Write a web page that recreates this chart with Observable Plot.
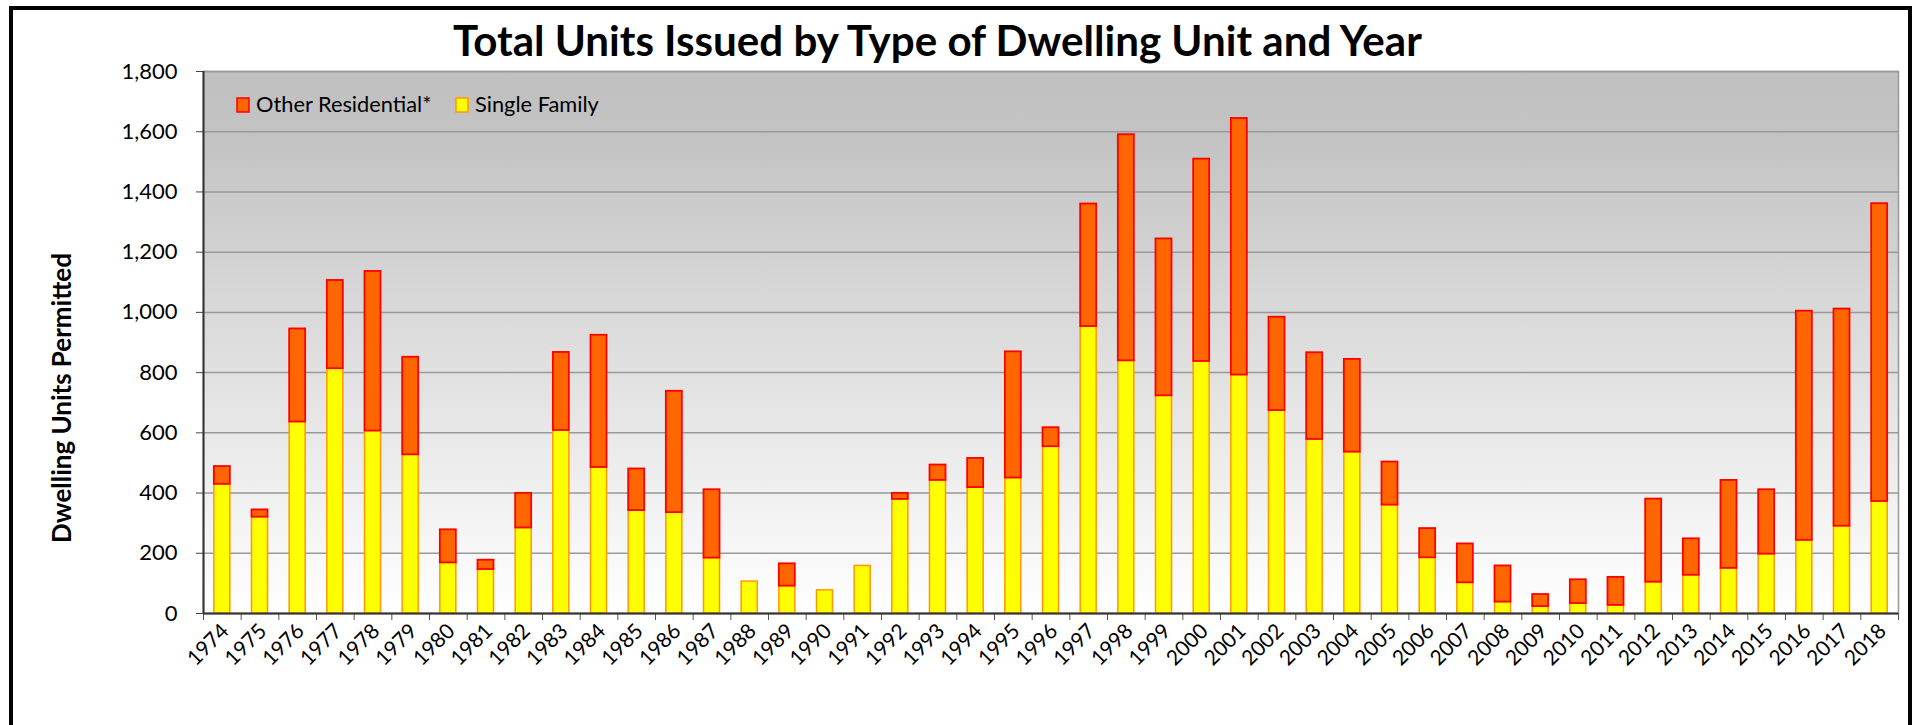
<!DOCTYPE html>
<html>
<head>
<meta charset="utf-8">
<script src="https://cdn.jsdelivr.net/npm/d3@7"></script>
<script src="https://cdn.jsdelivr.net/npm/@observablehq/plot@0.6"></script>
<style>
  html, body { margin: 0; padding: 0; background: #fff; }
  #wrap { position: relative; width: 1916px; height: 725px; overflow: hidden; background: #fff; font-family: Lato, sans-serif; }
  #wrap > svg { position: absolute; left: 0; top: 0; }
  #frame { position: absolute; left: 9px; top: 6px; width: 1895px; height: 800px; border: 4px solid #000; pointer-events: none; }
</style>
</head>
<body>
<div id="wrap"><div id="frame"></div></div>
<script>
// ---- data ----
const years = [1974,1975,1976,1977,1978,1979,1980,1981,1982,1983,1984,1985,1986,1987,1988,1989,1990,1991,1992,1993,1994,1995,1996,1997,1998,1999,2000,2001,2002,2003,2004,2005,2006,2007,2008,2009,2010,2011,2012,2013,2014,2015,2016,2017,2018];
const singleFamily = [429,320,636,813,606,527,168,146,284,608,485,342,335,184,106,91,77,158,379,442,418,450,554,953,839,723,837,792,674,578,536,360,185,102,38,23,33,27,104,127,150,197,243,290,372];
const otherResidential = [59,24,309,293,530,324,110,31,115,259,439,138,403,227,0,74,0,0,20,51,97,419,63,407,751,521,672,852,310,288,308,143,97,129,120,40,79,93,276,121,292,214,761,721,989];
const yTicks = [0,200,400,600,800,1000,1200,1400,1600,1800];
const seriesNames = ["Other Residential*", "Single Family"];
const seriesFill = ["#ff6600", "#ffff00"];
const seriesStroke = ["#ff0000", "#ff9900"];
const titleText = "Total Units Issued by Type of Dwelling Unit and Year";
const yLabelText = "Dwelling Units Permitted";

const rows = years.map((y, i) => ({year: y, single: singleFamily[i], other: otherResidential[i]}));

// ---- layout ----
const W = 1916, H = 725;
const mL = 203, mR = 18, mT = 71, mB = 112;
const bw = (W - mL - mR) / years.length;
const barInset = (bw - 16) / 2;

function gradientDefs() {
  const defs = d3.create("svg:defs");
  const g = defs.append("linearGradient").attr("id", "plotBg")
    .attr("x1", 0).attr("y1", 0).attr("x2", 0).attr("y2", 1);
  g.append("stop").attr("offset", "0%").attr("stop-color", "#c0c0c0");
  g.append("stop").attr("offset", "12%").attr("stop-color", "#c3c3c3");
  g.append("stop").attr("offset", "100%").attr("stop-color", "#ffffff");
  return defs.node();
}

const chart = Plot.plot({
  width: W, height: H,
  marginLeft: mL, marginRight: mR, marginTop: mT, marginBottom: mB,
  style: {background: "transparent", fontFamily: "Lato, sans-serif", fontSize: "20px", color: "#000"},
  x: {type: "band", domain: years, padding: 0, round: false, label: null},
  y: {domain: [0, 1800], label: null},
  marks: [
    gradientDefs,
    Plot.frame({fill: "url(#plotBg)", stroke: "#999", strokeWidth: 1.5}),
    Plot.gridY(yTicks, {stroke: "#999", strokeOpacity: 1, strokeWidth: 1.5}),
    Plot.barY(rows, {x: "year", y1: 0, y2: "single", fill: seriesFill[1], stroke: seriesStroke[1], strokeWidth: 1.5, insetLeft: barInset, insetRight: barInset}),
    Plot.barY(rows.filter(d => d.other > 0), {x: "year", y1: "single", y2: d => d.single + d.other, fill: seriesFill[0], stroke: seriesStroke[0], strokeWidth: 1.8, insetLeft: barInset, insetRight: barInset}),
    Plot.axisY({ticks: yTicks, tickSize: 7, tickPadding: 19, tickFormat: d3.format(","), label: null, stroke: "#444", fontSize: 22}),
    Plot.axisX({tickSize: 0, tickRotate: -45, tickPadding: 14, tickFormat: d => String(d), label: null, fill: "#000", stroke: "none", fontSize: 21, dx: 3}),
    Plot.axisX({tickSize: 7, fill: "none", stroke: "#555", dx: -bw / 2, label: null}),
    Plot.axisX({ticks: [years[years.length - 1]], tickSize: 7, fill: "none", stroke: "#555", dx: bw / 2, label: null}),
    Plot.ruleX([years[0]], {dx: -bw / 2, stroke: "#333", strokeWidth: 2}),
    Plot.ruleY([0], {stroke: "#333", strokeWidth: 2})
  ]
});

const wrap = document.getElementById("wrap");
wrap.insertBefore(chart, document.getElementById("frame"));

// ---- title, y label, legend overlay ----
function fitFont(text, weight, target) {
  const ctx = document.createElement("canvas").getContext("2d");
  ctx.font = `${weight} 100px Lato`;
  return 100 * target / ctx.measureText(text).width;
}

const ov = d3.create("svg").attr("width", W).attr("height", H)
  .style("font-family", "Lato, sans-serif");

ov.append("text").attr("x", 453).attr("y", 56)
  .attr("font-weight", "bold").attr("font-size", fitFont(titleText, "bold", 974))
  .attr("fill", "#000").text(titleText);

ov.append("text").attr("transform", "translate(71,398) rotate(-90)")
  .attr("text-anchor", "middle").attr("font-weight", "bold")
  .attr("font-size", fitFont(yLabelText, "bold", 290))
  .attr("fill", "#000").text(yLabelText);

const legFont = fitFont(seriesNames[0], "normal", 176);
const legX = [237, 456];
seriesNames.forEach((name, i) => {
  ov.append("rect").attr("x", legX[i]).attr("y", 98).attr("width", 12).attr("height", 14)
    .attr("fill", seriesFill[i]).attr("stroke", seriesStroke[i]).attr("stroke-width", 1.5);
  ov.append("text").attr("x", legX[i] + 19).attr("y", 112)
    .attr("font-size", legFont).attr("fill", "#000").text(name);
});

wrap.insertBefore(ov.node(), document.getElementById("frame"));
</script>
</body>
</html>
